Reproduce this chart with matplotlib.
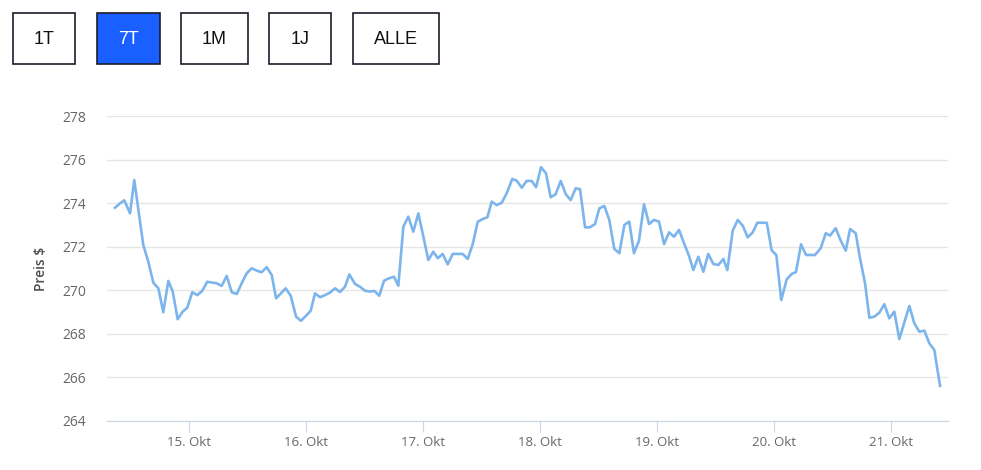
import matplotlib
matplotlib.use("Agg")
import matplotlib.pyplot as plt
from matplotlib.patches import Rectangle

# time in fractional days (day of October), price in $
days = [14.368, 14.410, 14.447, 14.496, 14.532, 14.575, 14.609, 14.652, 14.695, 14.738,
        14.780, 14.823, 14.861, 14.903, 14.946, 14.985, 15.028, 15.071, 15.114, 15.156,
        15.237, 15.279, 15.322, 15.365, 15.408, 15.450, 15.493, 15.536, 15.579, 15.621,
        15.664, 15.707, 15.744, 15.786, 15.826, 15.869, 15.915, 15.957, 16.000, 16.040,
        16.077, 16.120, 16.162, 16.205, 16.248, 16.291, 16.333, 16.370, 16.419, 16.462,
        16.504, 16.547, 16.584, 16.626, 16.667, 16.709, 16.752, 16.789, 16.832, 16.874,
        16.917, 16.960, 17.003, 17.045, 17.088, 17.126, 17.168, 17.211, 17.254, 17.297,
        17.339, 17.382, 17.425, 17.468, 17.510, 17.550, 17.587, 17.630, 17.673, 17.715,
        17.763, 17.801, 17.844, 17.886, 17.929, 17.966, 18.009, 18.051, 18.091, 18.134,
        18.177, 18.220, 18.262, 18.305, 18.342, 18.385, 18.427, 18.470, 18.507, 18.550,
        18.592, 18.635, 18.678, 18.721, 18.763, 18.803, 18.846, 18.889, 18.932, 18.974,
        19.017, 19.060, 19.103, 19.145, 19.188, 19.231, 19.274, 19.310, 19.353, 19.396,
        19.438, 19.481, 19.524, 19.567, 19.601, 19.647, 19.690, 19.733, 19.775, 19.818,
        19.857, 19.897, 19.938, 19.980, 20.020, 20.062, 20.108, 20.151, 20.188, 20.231,
        20.274, 20.312, 20.350, 20.399, 20.442, 20.479, 20.527, 20.570, 20.613, 20.650,
        20.698, 20.735, 20.778, 20.815, 20.857, 20.900, 20.943, 20.985, 21.028, 21.071,
        21.114, 21.157, 21.199, 21.242, 21.285, 21.327, 21.370, 21.419]
prices = [273.79, 273.99, 274.13, 273.53, 275.06, 273.38, 272.08, 271.31, 270.35, 270.09,
          268.99, 270.43, 269.94, 268.67, 269.02, 269.20, 269.91, 269.78, 269.98, 270.39,
          270.32, 270.20, 270.66, 269.91, 269.83, 270.32, 270.78, 271.01, 270.90, 270.83,
          271.06, 270.70, 269.63, 269.86, 270.09, 269.75, 268.79, 268.60, 268.83, 269.06,
          269.86, 269.68, 269.78, 269.89, 270.09, 269.92, 270.16, 270.73, 270.29, 270.16,
          269.98, 269.94, 269.97, 269.75, 270.44, 270.55, 270.62, 270.21, 272.92, 273.38,
          272.69, 273.53, 272.46, 271.39, 271.77, 271.47, 271.67, 271.19, 271.67, 271.67,
          271.67, 271.44, 272.12, 273.15, 273.27, 273.35, 274.07, 273.91, 274.02, 274.45,
          275.11, 275.03, 274.71, 275.02, 275.02, 274.73, 275.65, 275.37, 274.27, 274.41,
          275.02, 274.41, 274.14, 274.68, 274.64, 272.89, 272.89, 273.04, 273.76, 273.87,
          273.23, 271.90, 271.70, 273.00, 273.15, 271.70, 272.28, 273.95, 273.04, 273.23,
          273.15, 272.12, 272.66, 272.46, 272.77, 272.16, 271.57, 270.93, 271.54, 270.85,
          271.67, 271.21, 271.16, 271.44, 270.93, 272.74, 273.23, 272.96, 272.43, 272.66,
          273.10, 273.10, 273.10, 271.83, 271.62, 269.55, 270.50, 270.75, 270.84, 272.11,
          271.62, 271.62, 271.62, 271.93, 272.62, 272.51, 272.85, 272.28, 271.82, 272.81,
          272.62, 271.47, 270.32, 268.74, 268.79, 268.97, 269.36, 268.71, 269.02, 267.76,
          268.53, 269.28, 268.48, 268.10, 268.15, 267.57, 267.26, 265.61]

tick_days = [15, 16, 17, 18, 19, 20, 21]
tick_labels = ["15. Okt", "16. Okt", "17. Okt", "18. Okt", "19. Okt", "20. Okt", "21. Okt"]
y_ticks = [264, 266, 268, 270, 272, 274, 276, 278]
buttons = ["1T", "7T", "1M", "1J", "ALLE"]
active = "7T"

W, H = 981, 470
fig = plt.figure(figsize=(W / 100, H / 100), dpi=100)
plt.rcParams['font.family'] = ['Open Sans', 'DejaVu Sans']

ax = fig.add_axes([107 / W, 49 / H, (948 - 107) / W, (421 - 116) / H])
ax.plot(days, prices, color='#7cb5ec', lw=1.9, solid_joinstyle='round')
ax.set_xlim(14.299, 21.487)
ax.set_ylim(264, 278)
ax.set_yticks(y_ticks)
ax.set_xticks(tick_days)
ax.set_xticklabels(tick_labels)
ax.grid(axis='y', color='#e6e6e6', lw=1)
ax.set_axisbelow(True)
for s in ['top', 'right', 'left']:
    ax.spines[s].set_visible(False)
ax.spines['bottom'].set_color('#ccd6eb')
ax.tick_params(axis='x', length=8, color='#ccd6eb', labelcolor='#666666', labelsize=9.5, pad=3)
ax.tick_params(axis='y', length=0, labelcolor='#666666', labelsize=10, pad=15)
ax.set_ylabel("Preis $", color='#4d4d4d', fontsize=10, fontweight='semibold', labelpad=10)

# range selector buttons
btn_x = [(13, 75), (97, 160), (181, 248), (269, 331), (353, 439)]
for name, (x0, x1) in zip(buttons, btn_x):
    on = name == active
    fig.patches.append(Rectangle((x0 / W, 1 - 64 / H), (x1 - x0) / W, 51 / H,
                                 transform=fig.transFigure, lw=1.2, ec='#1b1d2a',
                                 fc='#1a5fff' if on else 'white'))
    fig.text((x0 + x1) / 2 / W, 1 - 39 / H, name, ha='center', va='center',
             fontsize=13, family=['Liberation Sans', 'DejaVu Sans'],
             color='white' if on else '#111111')

fig.savefig("out.png", dpi=100)
